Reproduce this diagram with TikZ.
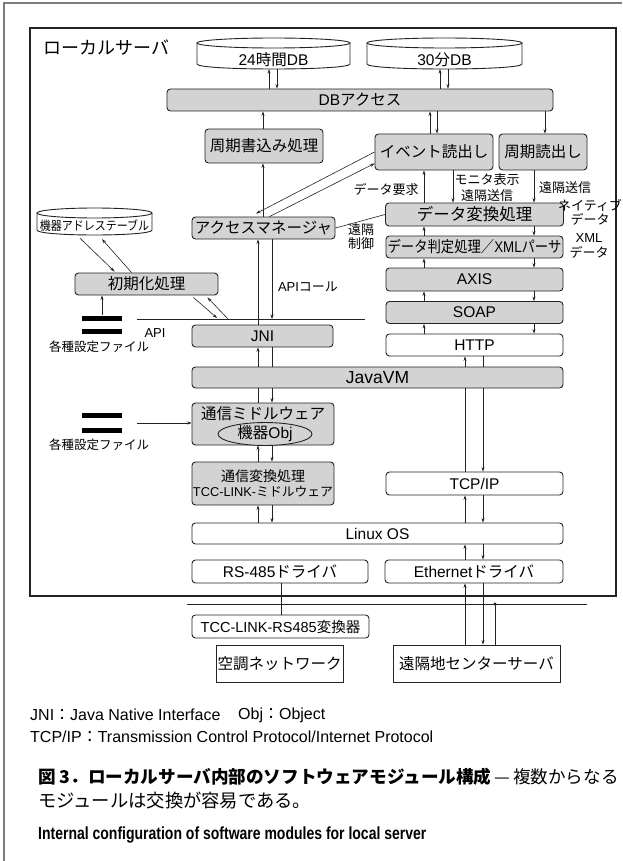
\documentclass[tikz,border=0pt]{standalone}
\usepackage{fontspec}
\setmainfont{Noto Sans CJK JP}
\newfontfamily\lat{Liberation Sans}
\newfontfamily\latc{Liberation Sans}[FakeStretch=0.8]
\usepackage{graphicx}
\usetikzlibrary{arrows.meta,calc,shapes.geometric}
\definecolor{boxgray}{RGB}{211,211,211}
\definecolor{framegray}{RGB}{125,125,125}
\definecolor{ink}{RGB}{35,35,35}
\newcommand\mycyl[5]{%
  \draw[cylline] (#1,{#3+#5}) -- (#1,{#4-#5}) .. controls (#1,{#4+#5/3}) and (#2,{#4+#5/3}) .. (#2,{#4-#5}) -- (#2,{#3+#5});
  \draw[cylline] ({(#1+#2)/2},{#3+#5}) ellipse [x radius={(#2-#1)/2}, y radius=#5];
}
\begin{document}
\begin{tikzpicture}[x=1pt,y=-1pt,
  gbox/.style={draw=ink, line width=0.9pt, fill=boxgray, rounded corners=3.5pt, inner sep=0pt, font=\fontsize{15.5}{18}\selectfont},
  wbox/.style={gbox, fill=white},
  sbox/.style={draw=ink, line width=0.9pt, fill=white, inner sep=0pt, font=\fontsize{15.5}{18}\selectfont},
  cylline/.style={draw=ink, line width=0.9pt, fill=white},
  con/.style={line width=0.6pt, draw=ink},
  arr/.style={con, -{Stealth[length=4.5pt,width=3pt]}},
  lbl/.style={inner sep=0pt, align=center, font=\fontsize{13}{15}\selectfont},
  bar/.style={fill=black, minimum width=40, minimum height=5, inner sep=0pt},
  legend/.style={anchor=west, inner sep=0pt, font=\fontsize{16}{18}\selectfont},
]
\useasboundingbox (0,0) rectangle (622,861);
\fill[white] (0,0) rectangle (622,861);
% frames
\draw[framegray, line width=1.4pt] (4,861) -- (4,3) -- (622,3);
\draw[ink, line width=1.2pt] (30,28) rectangle (616,596);
\node[anchor=west, inner sep=0pt, font=\fontsize{18}{20}\selectfont] (title) at (43,48) {ローカルサーバ};
% column coordinates
\foreach \c in {102,258,263,269,272,277,281,424,430,437,440,448,453,465,483,534,545}
  \coordinate (x\c) at (\c,0);
% databases
\mycyl{197}{350}{38}{69}{5}
\mycyl{367}{522}{38}{69}{5}
\mycyl{37}{152}{208}{235}{5}
\node[inner sep=0pt, minimum width=153, minimum height=31] (db24) at (273.5,53.5) {};
\node[lbl, font=\fontsize{15.5}{18}\selectfont] (db24t) at (273.5,60) {{\lat 24}時間{\lat DB}};
\node[inner sep=0pt, minimum width=155, minimum height=31] (db30) at (444.5,53.5) {};
\node[lbl, font=\fontsize{15.5}{18}\selectfont] (db30t) at (444.5,60) {{\lat 30}分{\lat DB}};
\node[inner sep=0pt, minimum width=115, minimum height=27] (addrtbl) at (94.5,221.5) {};
\node[lbl, font=\fontsize{12.5}{14}\selectfont] (addrtblt) at (94.5,226) {\scalebox{0.88}[1]{機器アドレステーブル}};
% boxes
\node[gbox, minimum width=386, minimum height=22] (dbacc) at (360,100) {{\lat DB}アクセス};
\node[gbox, minimum width=118, minimum height=34] (write) at (264,146) {周期書込み処理};
\node[gbox, minimum width=118, minimum height=36] (evread) at (434,152) {イベント読出し};
\node[gbox, minimum width=88, minimum height=36] (perread) at (543,152) {周期読出し};
\node[gbox, minimum width=143, minimum height=22] (accmgr) at (263.5,228) {アクセスマネージャ};
\node[gbox, minimum width=178, minimum height=23, font=\fontsize{16.5}{18}\selectfont] (conv) at (474.5,214.5) {データ変換処理};
\node[gbox, minimum width=177, minimum height=22] (judge) at (474.5,247) {\scalebox{0.86}[1]{データ判定処理／{\lat XML}パーサ}};
\node[gbox, minimum width=177, minimum height=23] (axis) at (474.5,279.5) {\lat AXIS};
\node[gbox, minimum width=177, minimum height=22] (soap) at (474.5,312.5) {\lat SOAP};
\node[wbox, minimum width=177, minimum height=22] (http) at (474.5,345) {\lat HTTP};
\node[gbox, minimum width=141, minimum height=22] (jni) at (262.5,336) {\lat JNI};
\node[gbox, minimum width=371, minimum height=21, font=\fontsize{17.5}{20}\selectfont] (javavm) at (377.5,377.5) {\lat JavaVM};
\node[gbox, minimum width=143, minimum height=22] (init) at (146.5,284) {初期化処理};
\node[gbox, minimum width=142, minimum height=42] (mw) at (263,424) {};
\node[lbl, font=\fontsize{15.5}{18}\selectfont] (mwt) at (263,414) {通信ミドルウェア};
\node[ellipse, draw=ink, line width=0.9pt, fill=boxgray, minimum width=94, minimum height=16, inner sep=0pt, font=\fontsize{15.5}{18}\selectfont] (obj) at (265,434) {機器{\lat Obj}};
\node[gbox, minimum width=142, minimum height=43] (cc) at (263,483.5) {};
\node[lbl, font=\fontsize{14}{16}\selectfont] (cct1) at (263,476.5) {通信変換処理};
\node[lbl, font=\fontsize{12.8}{15}\selectfont] (cct2) at (263,491.5) {{\lat TCC-LINK-}ミドルウェア};
\node[wbox, minimum width=177, minimum height=23] (tcpip) at (474.5,483.5) {\lat TCP/IP};
\node[wbox, minimum width=371, minimum height=21] (linux) at (377.5,533.5) {\lat Linux OS};
\node[wbox, minimum width=176, minimum height=23] (rs485) at (280,571.5) {{\lat RS-485}ドライバ};
\node[wbox, minimum width=178, minimum height=23] (eth) at (474,571.5) {{\lat Ethernet}ドライバ};
\node[wbox, minimum width=177, minimum height=23, font=\fontsize{14.5}{16}\selectfont] (tccrs) at (280.5,626.5) {{\lat TCC-LINK-RS485}変換器};
\node[sbox, minimum width=127, minimum height=37] (aircon) at (279.5,663.5) {空調ネットワーク};
\node[sbox, minimum width=167, minimum height=37] (remote) at (476.5,663.5) {遠隔地センターサーバ};
% setting files
\node[bar] (f1a) at (102,318) {};
\node[bar] (f1b) at (102,331.5) {};
\node[lbl, font=\fontsize{12.5}{14}\selectfont] (f1l) at (99,347) {各種設定ファイル};
\node[bar] (f2a) at (102,415) {};
\node[bar] (f2b) at (102,430.5) {};
\node[lbl, font=\fontsize{12.5}{14}\selectfont] (f2l) at (99,445) {各種設定ファイル};
\coordinate (f2s) at (137,423);
% API line and bus
\coordinate (apiL) at (137,319);
\coordinate (apiR) at (365,319);
\draw[ink, line width=0.9pt] (apiL) -- (apiR);
\node[lbl] (apil) at (155,333) {\lat API};
\coordinate (busL) at (187,604);
\coordinate (busR) at (587,604);
\coordinate (busJ) at (495,604);
\draw[ink, line width=1pt] (busL) -- (busR);
\fill[ink] (busJ) circle [radius=1.6];
% labels
\node[lbl] (lreq) at (386,189) {データ要求};
\node[lbl, font=\fontsize{13}{16}\selectfont] (lmon) at (487,188) {モニタ表示\\遠隔送信};
\node[lbl] (lrem) at (565,188) {遠隔送信};
\node[lbl, font=\fontsize{13}{14}\selectfont] (lnat) at (590,212.5) {ネイティブ\\データ};
\node[lbl, font=\fontsize{13}{14}\selectfont] (lctl) at (361,237) {遠隔\\制御};
\node[lbl, font=\fontsize{13}{15}\selectfont] (lxml) at (589,245.5) {{\lat XML}\\データ};
\node[lbl] (lapic) at (308,287) {{\lat API}コール};
% connectors: databases
\draw[arr] (dbacc.north -| x269) -- (db24.south -| x269);
\draw[arr] (db24.south -| x277) -- (dbacc.north -| x277);
\draw[arr] (dbacc.north -| x440) -- (db30.south -| x440);
\draw[arr] (db30.south -| x448) -- (dbacc.north -| x448);
\draw[arr] (write.north -| x263) -- (dbacc.south -| x263);
\draw[arr] (evread.north -| x430) -- (dbacc.south -| x430);
\draw[arr] (dbacc.south -| x437) -- (evread.north -| x437);
\draw[arr] (dbacc.south -| x545) -- (perread.north -| x545);
\draw[arr] (accmgr.north -| x263) -- (write.south -| x263);
\draw[arr] (evread.west) -- ($(accmgr.north)+(-7.5,-3)$);
\draw[arr] ($(accmgr.north)+(6,0)$) -- ($(evread.south west)+(0,-7)$);
\draw[con] (accmgr.east) -- (conv.west);
% right column
\draw[arr] (conv.north -| x424) -- (evread.south -| x424);
\draw[arr] (evread.south -| x453) -- (conv.north -| x453);
\draw[arr] (perread.south -| x534) -- (conv.north -| x534);
\foreach \a/\b in {conv/judge,judge/axis,axis/soap,soap/http}{
  \draw[arr] (\b.north -| x424) -- (\a.south -| x424);
  \draw[arr] (\a.south -| x534) -- (\b.north -| x534);
}
\draw[arr] (javavm.north -| x465) -- (http.south -| x465);
\draw[con] (http.south -| x483) -- (javavm.north -| x483);
\draw[con] (tcpip.north -| x465) -- (javavm.south -| x465);
\draw[arr] (javavm.south -| x483) -- (tcpip.north -| x483);
\draw[arr] (linux.north -| x465) -- (tcpip.south -| x465);
\draw[arr] (tcpip.south -| x483) -- (linux.north -| x483);
\draw[arr] (eth.north -| x465) -- (linux.south -| x465);
\draw[arr] (linux.south -| x483) -- (eth.north -| x483);
\draw[arr] (remote.north -| x465) -- (eth.south -| x465);
\draw[arr] (eth.south -| x483) -- (remote.north -| x483);
\draw[con] (busJ) -- (remote.north -| busJ);
% left column
\draw[arr] (jni.north -| x258) -- (accmgr.south -| x258);
\draw[arr] (accmgr.south -| x272) -- (apiL -| x272);
\draw[arr] (javavm.north -| x258) -- (jni.south -| x258);
\draw[con] (jni.south -| x272) -- (javavm.north -| x272);
\draw[con] (mw.north -| x258) -- (javavm.south -| x258);
\draw[arr] (javavm.south -| x272) -- (mw.north -| x272);
\draw[arr] (cc.north -| x258) -- (mw.south -| x258);
\draw[arr] (mw.south -| x272) -- (cc.north -| x272);
\draw[arr] (linux.north -| x258) -- (cc.south -| x258);
\draw[arr] (cc.south -| x272) -- (linux.north -| x272);
\draw[con] (rs485.south -| x281) -- (tccrs.north -| x281);
% init and tables
\draw[arr] ($(addrtbl.south)+(-14.5,3)$) -- ($(init.north west)+(40,-1)$);
\draw[arr] ($(init.north west)+(57,0)$) -- ($(addrtbl.south)+(7.5,4)$);
\draw[arr] ($(init.south east)+(-25,2)$) -- ($(apiL)+(80,-1)$);
\draw[arr] ($(apiL)+(91,0)$) -- ($(init.south east)+(-11,2)$);
\draw[arr] (f1a.north) -- (init.south -| f1a.north);
\draw[arr] (f2s) -- (mw.west |- f2s);
% legend and caption
\node[legend] (leg1) at (30,715) {{\lat JNI}：{\lat Java Native Interface}};
\node[legend] (leg2) at (238,715) {{\lat Obj}：{\lat Object}};
\node[legend] (leg3) at (30,737) {{\lat TCP/IP}：{\lat Transmission Control Protocol/Internet Protocol}};
\node[anchor=west, inner sep=0pt, font=\fontsize{17.6}{20}\selectfont] (cap1) at (38,777) {{\bfseries 図 3．ローカルサーバ内部のソフトウェアモジュール構成}\,—\,複数からなる};
\node[anchor=west, inner sep=0pt, font=\fontsize{18.3}{20}\selectfont] (cap2) at (38,801) {モジュールは交換が容易である。};
\node[anchor=west, inner sep=0pt, font=\fontsize{17.5}{19}\selectfont] (cap3) at (38,835) {\latc\bfseries Internal configuration of software modules for local server};
\end{tikzpicture}
\end{document}
